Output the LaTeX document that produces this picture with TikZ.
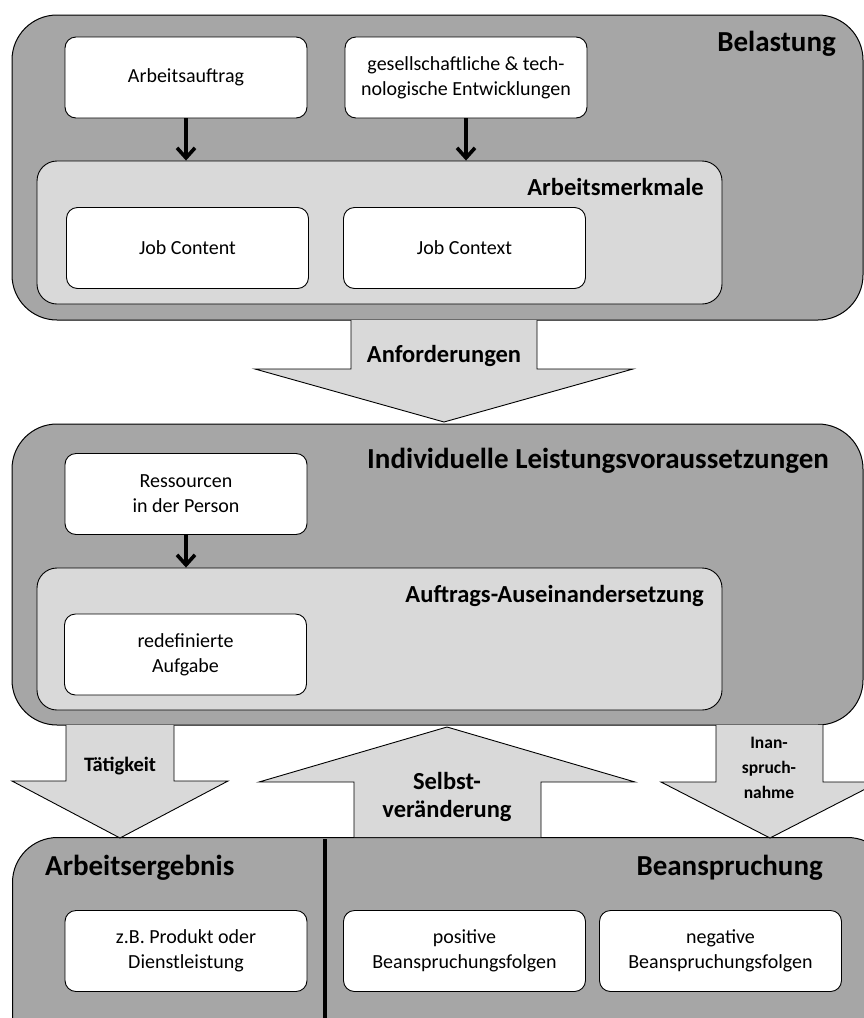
\documentclass[tikz,border=0pt]{standalone}
\usepackage{fontspec}
\setmainfont{Carlito}
\usetikzlibrary{arrows.meta}
\definecolor{panelgray}{HTML}{A6A6A6}
\definecolor{lightgray}{HTML}{D9D9D9}
\begin{document}
\begin{tikzpicture}[x=1pt,y=-1pt,
  panel/.style={draw=black, line width=1pt, fill=panelgray, rounded corners=45pt, inner sep=0pt},
  group/.style={draw=black, line width=0.9pt, fill=lightgray, rounded corners=20pt, inner sep=0pt},
  card/.style={draw=black, line width=0.9pt, fill=white, rounded corners=11pt,
    minimum width=242pt, minimum height=81pt, inner sep=0pt, align=center,
    font=\fontsize{20}{25}\selectfont},
  bigtitle/.style={font=\bfseries\fontsize{29}{32}\selectfont, inner sep=0pt},
  midtitle/.style={font=\bfseries\fontsize{24.5}{28}\selectfont, inner sep=0pt},
  arrowlabel/.style={font=\bfseries\fontsize{17.5}{25}\selectfont, align=center, inner sep=0pt},
  blockarrow/.style={draw=black, line width=0.9pt, fill=lightgray},
  flow/.style={line width=3.6pt, -{Straight Barb[length=10pt,width=18pt]}},
  divider/.style={line width=4pt}
]
\useasboundingbox (0,0) rectangle (864,1018);
\clip (0,0) rectangle (864,1018);

% ---- Belastung ----
\node[panel, minimum width=851pt, minimum height=305pt] (belastung) at (437.5,167.5) {};
\node[bigtitle, anchor=east] (belastungT) at (836,44) {Belastung};
\node[card] (auftrag) at (186,77.5) {Arbeitsauftrag};
\node[card] (entw) at (466,77.5) {gesellschaftliche \& tech-\\nologische Entwicklungen};
\node[group, minimum width=685pt, minimum height=143pt] (merkmale) at (379.5,232.5) {};
\node[midtitle, anchor=east] (merkmaleT) at (704,187) {Arbeitsmerkmale};
\node[card] (content) at (187.5,248) {Job Content};
\node[card] (context) at (464.5,248) {Job Context};
\draw[flow] (auftrag.south) -- (auftrag.south |- merkmale.north);
\draw[flow] (entw.south) -- (entw.south |- merkmale.north);

% ---- Anforderungen ----
\draw[blockarrow] (351,320) -- (351,369) -- (255,369) -- (444,422) -- (633,369) -- (537,369) -- (537,320);
\node[arrowlabel, font=\bfseries\fontsize{24.5}{28}\selectfont] (anf) at (444,356) {Anforderungen};

% ---- Individuelle Leistungsvoraussetzungen ----
\node[panel, minimum width=851pt, minimum height=301pt] (individ) at (437.5,574.5) {};
\node[bigtitle, anchor=east] (individT) at (829,461) {Individuelle Leistungsvoraussetzungen};
\node[card] (ress) at (186,494) {Ressourcen\\in der Person};
\node[group, minimum width=685pt, minimum height=142pt] (ausein) at (379.5,639) {};
\node[midtitle, anchor=east] (auseinT) at (704,596) {Auftrags-Auseinandersetzung};
\node[card] (redef) at (185.5,654.5) {redefinierte\\Aufgabe};
\draw[flow] (ress.south) -- (ress.south |- ausein.north);

% ---- bottom panel ----
\node[panel, minimum width=880pt, minimum height=240pt, anchor=north west] (ergebnis) at (12,837) {};
\draw[divider] (325,839) -- (325,1030);
\node[bigtitle, anchor=west] (ergebnisT) at (45,868) {Arbeitsergebnis};
\node[bigtitle, anchor=east] (beanspT) at (823,868) {Beanspruchung};
\node[card] (produkt) at (186,951) {z.B. Produkt oder\\Dienstleistung};
\node[card] (positiv) at (464.5,951) {positive\\Beanspruchungsfolgen};
\node[card] (negativ) at (720.5,951) {negative\\Beanspruchungsfolgen};

% ---- Tätigkeit ----
\draw[blockarrow] (66,725) -- (66,781) -- (12,781) -- (120,838) -- (228,781) -- (174,781) -- (174,725);
\node[arrowlabel, font=\bfseries\fontsize{20.5}{25}\selectfont] (taet) at (120,766) {Tätigkeit};

% ---- Selbstveränderung ----
\draw[blockarrow] (354,837) -- (354,782) -- (259,782) -- (447,727) -- (635,782) -- (541,782) -- (541,837);
\node[arrowlabel, font=\bfseries\fontsize{24.5}{28}\selectfont] (selbst) at (447,797) {Selbst-\\veränderung};

% ---- Inanspruchnahme ----
\draw[blockarrow] (716,725) -- (716,782) -- (661,782) -- (770,838) -- (879,782) -- (823,782) -- (823,725);
\node[arrowlabel] (inan) at (769,768) {Inan-\\spruch-\\nahme};
\end{tikzpicture}
\end{document}
